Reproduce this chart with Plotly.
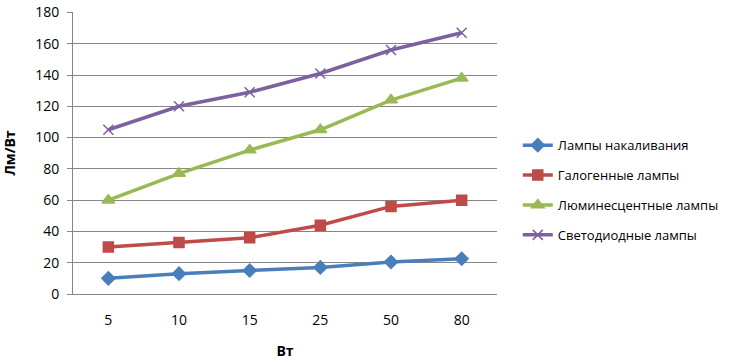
import plotly.graph_objects as go

categories = ["5", "10", "15", "25", "50", "80"]
incandescent = [10, 13, 15, 17, 20.5, 22.5]
halogen = [30, 33, 36, 44, 56, 60]
fluorescent = [60, 77, 92, 105, 124, 138]
led = [105, 120, 129, 141, 156, 167]
y_ticks = [0, 20, 40, 60, 80, 100, 120, 140, 160, 180]

series = [
    ("Лампы накаливания", incandescent, "#4a7ebb", "diamond", 10),
    ("Галогенные лампы", halogen, "#be4b48", "square", 10),
    ("Люминесцентные лампы", fluorescent, "#98b954", "triangle-up", 11),
    ("Светодиодные лампы", led, "#7d60a0", "x-thin-open", 10),
]

fig = go.Figure()
for i, (name, vals, color, sym, size) in enumerate(series):
    fig.add_trace(go.Scatter(
        x=categories, y=vals, name=name, mode="lines+markers",
        legendgroup=f"g{i}",
        line=dict(color=color, width=3.5),
        marker=dict(symbol=sym, size=size, color=color,
                    line=dict(color=color, width=1.5)),
    ))

font = "Open Sans, DejaVu Sans, sans-serif"
fig.update_layout(
    width=745, height=364,
    margin=dict(l=73, r=248, t=12, b=70),
    paper_bgcolor="white", plot_bgcolor="white",
    font=dict(family=font, size=13, color="black"),
    showlegend=True,
    legend=dict(x=1.049, y=0.368, xanchor="left", yanchor="middle",
                font=dict(size=13), itemwidth=30, tracegroupgap=10,
                traceorder="grouped",
                bgcolor="rgba(0,0,0,0)"),
    xaxis=dict(type="category", range=[-0.5, 5.5], showgrid=False, showline=True,
               linecolor="#868686", linewidth=1, ticks="", automargin=False,
               tickfont=dict(size=14), ticklabelstandoff=13,
               title=dict(text="<b>Вт</b>", font=dict(size=14), standoff=18)),
    yaxis=dict(range=[0, 180.3], tickvals=y_ticks, showgrid=True, automargin=False,
               gridcolor="#868686", gridwidth=1, showline=True,
               linecolor="#868686", linewidth=1, ticks="outside",
               ticklen=5, tickcolor="#868686", zeroline=False,
               tickfont=dict(size=14), ticklabelstandoff=5,
               ticklabeloverflow="allow",
               title=dict(text="<b>Лм/Вт</b>", font=dict(size=14), standoff=18)),
)

fig.write_html("out.html", config={"displayModeBar": False},
               post_script="document.body.style.margin='0px';")
